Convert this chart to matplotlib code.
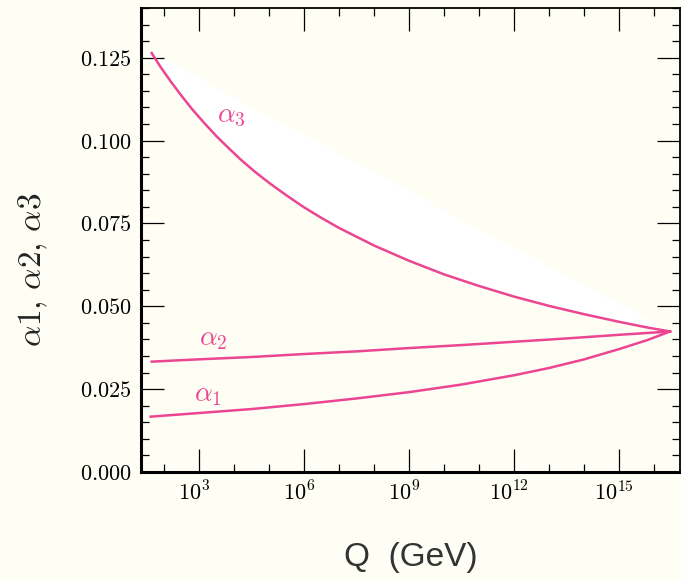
import numpy as np
import matplotlib
matplotlib.use("Agg")
import matplotlib.pyplot as plt
from matplotlib.ticker import FixedLocator, MultipleLocator, FuncFormatter
from matplotlib.transforms import ScaledTranslation

plt.rcParams['mathtext.fontset'] = 'cm'

# values: log10(Q / GeV) and coupling
logq1 = [1.61, 3.0, 4.5, 6.0, 7.5, 9.0, 10.5, 12.0, 13.0, 14.0, 15.0, 15.8, 16.45]
alpha1 = [0.0167, 0.0178, 0.0190, 0.0205, 0.0222, 0.0241, 0.0264, 0.0292,
          0.0314, 0.0340, 0.0371, 0.0398, 0.0424]

logq2 = [1.64, 3.0, 4.5, 6.0, 7.5, 9.0, 10.5, 12.0, 13.5, 15.0, 16.45]
alpha2 = [0.0333, 0.0340, 0.0347, 0.0356, 0.0364, 0.0374, 0.0383, 0.0393,
          0.0403, 0.0414, 0.0424]

logq3 = [1.64, 1.9, 2.2, 2.5, 2.8, 3.15, 3.5, 3.85, 4.2, 4.6, 5.0, 5.5, 6.0, 6.5,
         7.0, 8.0, 9.0, 10.0, 11.0, 12.0, 13.0, 14.0, 15.0, 15.8, 16.45]
alpha3 = [0.1264, 0.1221, 0.1176, 0.1134, 0.1094, 0.1052, 0.1012, 0.0976,
          0.0941, 0.0905, 0.0872, 0.0834, 0.0798, 0.0766, 0.0736, 0.0683,
          0.0637, 0.0596, 0.0561, 0.0529, 0.0501, 0.0476, 0.0453, 0.0436, 0.0424]

xtick_pows = [3, 6, 9, 12, 15]

pink = '#ec4592'
bg = '#fefef5'

fig = plt.figure(figsize=(6.81, 5.81), dpi=100, facecolor=bg)
ax = fig.add_axes([141 / 681, 1 - 472 / 581, 539 / 681, 464 / 581])
ax.set_facecolor(bg)

q1 = 10.0 ** np.array(logq1)
q2 = 10.0 ** np.array(logq2)
q3 = 10.0 ** np.array(logq3)

ax.set_xscale('log')
ax.fill(q3, alpha3, color='white', lw=0, zorder=1)
ax.plot(q1, alpha1, color=pink, lw=1.8, zorder=3)
ax.plot(q2, alpha2, color=pink, lw=1.8, zorder=3)
ax.plot(q3, alpha3, color=pink, lw=1.8, zorder=3)

ax.text(10 ** 3.93, 0.1078, r'$\alpha_3$', color=pink, fontsize=20, ha='center', va='center')
ax.text(10 ** 3.39, 0.0405, r'$\alpha_2$', color=pink, fontsize=20, ha='center', va='center')
ax.text(10 ** 3.25, 0.0236, r'$\alpha_1$', color=pink, fontsize=20, ha='center', va='center')

ax.set_xlim(10 ** 1.334, 10 ** 16.734)
ax.set_ylim(0, 0.14)

ax.xaxis.set_major_locator(FixedLocator([10.0 ** p for p in xtick_pows]))
ax.xaxis.set_minor_locator(FixedLocator([10.0 ** p for p in range(2, 17)]))
ax.xaxis.set_major_formatter(FuncFormatter(lambda v, pos: r'$10^{%d}$' % round(np.log10(v))))
ax.xaxis.set_minor_formatter(FuncFormatter(lambda v, pos: ''))

ax.yaxis.set_major_locator(MultipleLocator(0.025))
ax.yaxis.set_minor_locator(MultipleLocator(0.005))
ax.yaxis.set_major_formatter(FuncFormatter(lambda v, pos: r'$%.3f$' % v))

ax.tick_params(which='both', direction='in', top=True, right=True, colors='black')
ax.tick_params(which='major', length=16.5, width=0.9, labelsize=16)
ax.tick_params(which='minor', length=5.5, width=0.9)
ax.tick_params(axis='y', pad=6.5)
ax.tick_params(axis='x', pad=6)

for side in ['left', 'bottom']:
    ax.spines[side].set_linewidth(2.2)
for side in ['top', 'right']:
    ax.spines[side].set_linewidth(1.3)

# x tick labels sit a little left of their ticks
shift = ScaledTranslation(-5 / 100, 0, fig.dpi_scale_trans)
for tick in ax.xaxis.get_major_ticks(len(xtick_pows)):
    tick.label1.set_transform(tick.label1.get_transform() + shift)

fig.text(33 / 681, 1 - 270 / 581, r'$\alpha1,\,\alpha2,\,\alpha3$', rotation=90,
         fontsize=24, ha='center', va='center', color='#222222')
fig.text(411 / 681, 1 - 566 / 581, 'Q  (GeV)', family='Liberation Sans',
         fontsize=24, ha='center', va='baseline', color='#333333')

fig.savefig('out.png', dpi=100, facecolor=bg)
